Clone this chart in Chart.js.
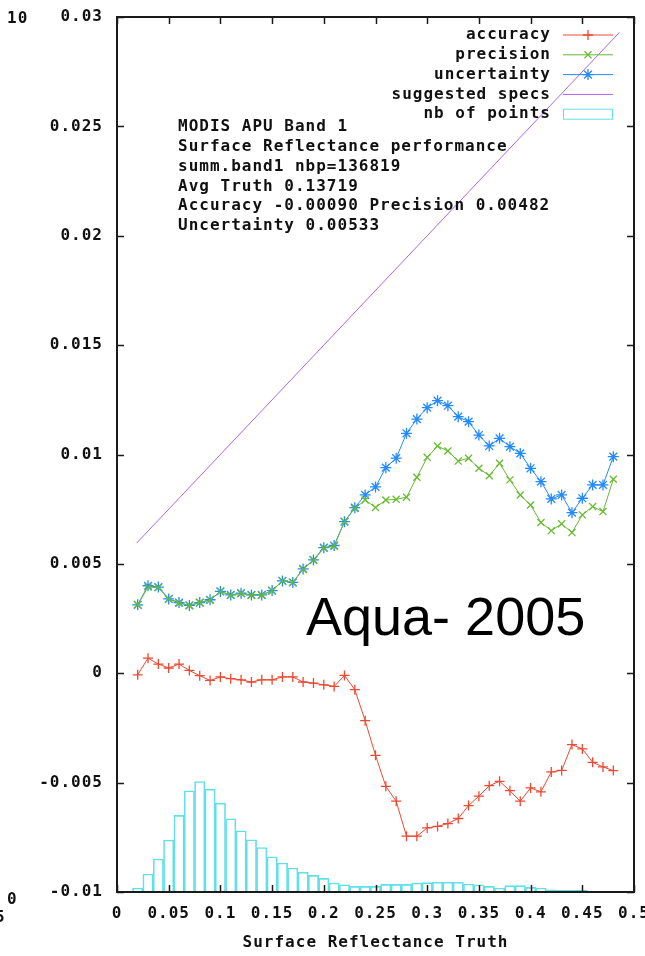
<!DOCTYPE html>
<html>
<head>
<meta charset="utf-8">
<title>MODIS APU Band 1</title>
<script src="https://cdn.jsdelivr.net/npm/chart.js@4/dist/chart.umd.min.js"></script>
<style>
  html, body { margin: 0; padding: 0; background: #fff; }
  #wrap { position: relative; width: 645px; height: 956px; }
</style>
</head>
<body>
<div id="wrap"><canvas id="perfChart"></canvas></div>
<script>
// surface reflectance bins (truth)
const truth = [0.02, 0.03, 0.04, 0.05, 0.06, 0.07, 0.08, 0.09, 0.10, 0.11,
  0.12, 0.13, 0.14, 0.15, 0.16, 0.17, 0.18, 0.19, 0.20, 0.21,
  0.22, 0.23, 0.24, 0.25, 0.26, 0.27, 0.28, 0.29, 0.30, 0.31,
  0.32, 0.33, 0.34, 0.35, 0.36, 0.37, 0.38, 0.39, 0.40, 0.41,
  0.42, 0.43, 0.44, 0.45, 0.46, 0.47, 0.48];

const accuracy = [-0.00007, 0.00069, 0.00042, 0.00024, 0.00042, 0.00013, -0.00011, -0.00033, -0.00017, -0.00025,
  -0.00030, -0.00040, -0.00030, -0.00030, -0.00017, -0.00017, -0.00040, -0.00045, -0.00053, -0.00060,
  -0.00010, -0.00075, -0.00217, -0.00375, -0.00517, -0.00585, -0.00745, -0.00745, -0.00707, -0.00700,
  -0.00687, -0.00664, -0.00605, -0.00562, -0.00514, -0.00494, -0.00537, -0.00585, -0.00524, -0.00542,
  -0.00451, -0.00444, -0.00326, -0.00346, -0.00407, -0.00428, -0.00445];

const precision = [0.00313, 0.00394, 0.00392, 0.00339, 0.00320, 0.00310, 0.00323, 0.00334, 0.00374, 0.00357,
  0.00365, 0.00356, 0.00357, 0.00377, 0.00422, 0.00415, 0.00475, 0.00516, 0.00572, 0.00581,
  0.00693, 0.00753, 0.00792, 0.00758, 0.00792, 0.00795, 0.00805, 0.00896, 0.00987, 0.01039,
  0.01016, 0.00970, 0.00983, 0.00937, 0.00903, 0.00960, 0.00884, 0.00815, 0.00769, 0.00689,
  0.00652, 0.00683, 0.00643, 0.00724, 0.00762, 0.00739, 0.00887];

const uncertainty = [0.00313, 0.00400, 0.00394, 0.00340, 0.00323, 0.00310, 0.00323, 0.00336, 0.00374, 0.00358,
  0.00366, 0.00358, 0.00358, 0.00378, 0.00422, 0.00415, 0.00477, 0.00518, 0.00574, 0.00584,
  0.00693, 0.00757, 0.00815, 0.00852, 0.00940, 0.00983, 0.01097, 0.01162, 0.01214, 0.01246,
  0.01223, 0.01173, 0.01150, 0.01089, 0.01039, 0.01074, 0.01036, 0.01005, 0.00937, 0.00876,
  0.00797, 0.00815, 0.00734, 0.00800, 0.00861, 0.00861, 0.00990];

// suggested specs line end points
const specTruth = [0.019, 0.486];
const specValue = [0.00595, 0.0293];

// histogram of number of points per bin
const histTruth = [0.02, 0.03, 0.04, 0.05, 0.06, 0.07, 0.08, 0.09, 0.10, 0.11,
  0.12, 0.13, 0.14, 0.15, 0.16, 0.17, 0.18, 0.19, 0.20, 0.21,
  0.22, 0.23, 0.24, 0.25, 0.26, 0.27, 0.28, 0.29, 0.30, 0.31,
  0.32, 0.33, 0.34, 0.35, 0.36, 0.37, 0.38, 0.39, 0.40, 0.41,
  0.42, 0.43, 0.44, 0.45];
const nbPoints = [460, 2060, 3770, 5940, 8750, 11570, 12630, 11760, 10160, 8370,
  7000, 5970, 5090, 4030, 3310, 2740, 2280, 1900, 1550, 1030,
  830, 640, 640, 640, 870, 870, 870, 1030, 1080, 1110,
  1110, 1110, 910, 830, 650, 460, 720, 720, 530, 460,
  260, 180, 180, 180];

const xTickValues = [0, 0.05, 0.1, 0.15, 0.2, 0.25, 0.3, 0.35, 0.4, 0.45, 0.5];
const yTickValues = [-0.01, -0.005, 0, 0.005, 0.01, 0.015, 0.02, 0.025, 0.03];

const infoLines = [
  'MODIS APU Band 1',
  'Surface Reflectance performance',
  'summ.band1 nbp=136819',
  'Avg Truth 0.13719',
  'Accuracy -0.00090 Precision 0.00482',
  'Uncertainty 0.00533'
];

const MONO = '"DejaVu Sans Mono", "Liberation Mono", monospace';
const TEXT = '#111';

const toPoints = (xs, ys) => xs.map((x, i) => ({ x: x, y: ys[i] }));
const fmt = v => String(parseFloat(v.toFixed(3)));

// border, inward ticks, gnuplot-style key and text labels
const frame = {
  id: 'frame',
  beforeDraw(chart) {
    chart.ctx.letterSpacing = '1px';
  },
  afterDraw(chart) {
    const ctx = chart.ctx;
    const { left, right, top, bottom } = chart.chartArea;
    const xs = chart.scales.x;
    const ys = chart.scales.y;

    ctx.save();
    ctx.strokeStyle = '#1a1a1a';
    ctx.lineWidth = 1.5;
    ctx.beginPath();
    xs.ticks.forEach(t => {
      const px = Math.round(xs.getPixelForValue(t.value)) + 0.5;
      ctx.moveTo(px, bottom); ctx.lineTo(px, bottom - 7);
      ctx.moveTo(px, top); ctx.lineTo(px, top + 7);
    });
    ys.ticks.forEach(t => {
      const py = Math.round(ys.getPixelForValue(t.value)) + 0.5;
      ctx.moveTo(left, py); ctx.lineTo(left + 7, py);
      ctx.moveTo(right, py); ctx.lineTo(right - 7, py);
    });
    ctx.stroke();
    ctx.lineWidth = 2;
    ctx.strokeRect(left, top, right - left, bottom - top);

    // key
    ctx.font = 'bold 16px ' + MONO;
    ctx.fillStyle = TEXT;
    ctx.textAlign = 'right';
    ctx.textBaseline = 'middle';
    chart.data.datasets.forEach((ds, i) => {
      const y = 35 + i * 19.8;
      ctx.fillStyle = TEXT;
      ctx.fillText(ds.label, 551, y);
      ctx.strokeStyle = ds.borderColor;
      ctx.lineWidth = 1;
      if (ds.type === 'bar') {
        ctx.strokeRect(563.5, y - 5, 49, 10);
        return;
      }
      ctx.beginPath();
      ctx.moveTo(563, y); ctx.lineTo(613, y);
      ctx.stroke();
      if (ds.pointRadius > 0) {
        ctx.lineWidth = ds.pointBorderWidth;
        Chart.helpers.drawPoint(ctx, {
          pointStyle: ds.pointStyle,
          radius: ds.pointRadius,
          rotation: 0,
          borderWidth: ds.pointBorderWidth
        }, 588, y);
      }
    });

    // run summary
    ctx.textAlign = 'left';
    ctx.fillStyle = TEXT;
    infoLines.forEach((line, i) => ctx.fillText(line, 178, 127 + i * 19.8));

    // secondary axis labels, clipped at the left edge
    ctx.fillText('10', 7, 19);
    ctx.fillText('0', 7, 900);
    ctx.fillText('5', -5, 918);

    ctx.letterSpacing = '0px';
    ctx.font = '54px "Liberation Sans", Arial, sans-serif';
    ctx.fillStyle = '#000';
    ctx.textBaseline = 'alphabetic';
    ctx.fillText('Aqua- 2005', 306, 635);
    ctx.restore();
  }
};

const lineStyle = (color, shape, radius) => ({
  type: 'line',
  borderColor: color,
  backgroundColor: color,
  borderWidth: 1,
  pointStyle: shape,
  pointRadius: radius,
  pointBorderWidth: 1.3,
  pointBorderColor: color,
  tension: 0,
  fill: false,
  yAxisID: 'y'
});

new Chart(document.getElementById('perfChart'), {
  type: 'line',
  data: {
    datasets: [
      Object.assign(lineStyle('rgb(238,72,50)', 'cross', 5), {
        label: 'accuracy', data: toPoints(truth, accuracy), order: 1
      }),
      Object.assign(lineStyle('rgb(104,186,48)', 'crossRot', 5), {
        label: 'precision', data: toPoints(truth, precision), order: 2
      }),
      Object.assign(lineStyle('rgb(36,138,255)', 'star', 5.5), {
        label: 'uncertainty', data: toPoints(truth, uncertainty), order: 3
      }),
      Object.assign(lineStyle('rgb(172,100,240)', 'circle', 0), {
        label: 'suggested specs', data: toPoints(specTruth, specValue), order: 4
      }),
      {
        type: 'bar',
        label: 'nb of points',
        data: toPoints(histTruth, nbPoints),
        backgroundColor: 'rgba(255,255,255,0)',
        borderColor: 'rgb(96,224,232)',
        borderWidth: 1,
        barPercentage: 1,
        categoryPercentage: 1,
        yAxisID: 'y2',
        order: 10
      }
    ]
  },
  options: {
    responsive: true,
    maintainAspectRatio: false,
    animation: false,
    layout: { padding: { top: 17, right: 11, left: 0, bottom: 0 } },
    plugins: {
      legend: { display: false },
      tooltip: { enabled: false }
    },
    scales: {
      x: {
        type: 'linear',
        min: 0,
        max: 0.5,
        offset: false,
        grid: { display: false, drawTicks: false },
        border: { display: false },
        ticks: {
          color: TEXT,
          padding: 12,
          maxRotation: 0,
          font: { family: MONO, size: 16, weight: 'bold' },
          callback: v => fmt(v)
        },
        title: {
          display: true,
          text: 'Surface Reflectance Truth',
          color: TEXT,
          padding: { top: 0, bottom: 4 },
          font: { family: MONO, size: 16, weight: 'bold' }
        },
        afterBuildTicks: s => { s.ticks = xTickValues.map(v => ({ value: v })); },
        afterFit: s => { s.height = 64; s.paddingLeft = 0; s.paddingRight = 0; }
      },
      y: {
        type: 'linear',
        position: 'left',
        min: -0.01,
        max: 0.03,
        grid: { display: false, drawTicks: false },
        border: { display: false },
        ticks: {
          color: TEXT,
          padding: 14,
          font: { family: MONO, size: 16, weight: 'bold' },
          callback: v => fmt(v)
        },
        afterBuildTicks: s => { s.ticks = yTickValues.map(v => ({ value: v })); },
        afterFit: s => { s.width = 117; s.paddingTop = 0; s.paddingBottom = 0; }
      },
      y2: {
        type: 'linear',
        display: false,
        min: 0,
        max: 100000
      }
    }
  },
  plugins: [frame]
});
</script>
</body>
</html>
